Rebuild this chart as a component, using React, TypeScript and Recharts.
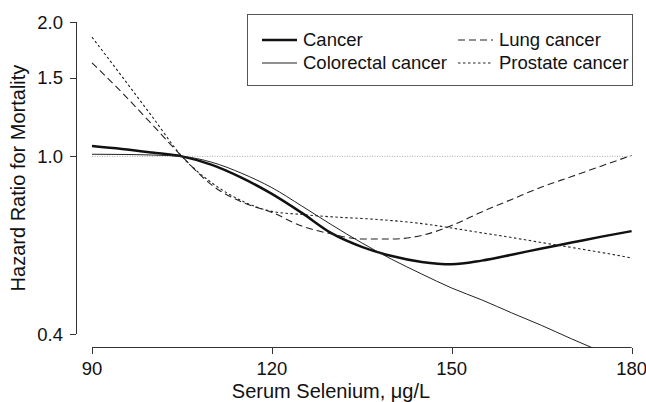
import React from 'react'
import { LineChart, Line, XAxis, YAxis, ReferenceLine, Legend } from 'recharts'

// serum selenium (µg/L) and hazard ratio for each cause of death
const selenium = [90, 95, 100, 105, 110, 115, 120, 125, 130, 135, 140, 145, 150, 155, 160, 165, 170, 175, 180]
const cancer = [1.055, 1.039, 1.02, 1.0, 0.957, 0.895, 0.824, 0.747, 0.672, 0.627, 0.598, 0.58, 0.573, 0.584, 0.602, 0.622, 0.641, 0.661, 0.68]
const colorectal = [1.011, 1.01, 1.007, 1.0, 0.97, 0.916, 0.851, 0.774, 0.702, 0.64, 0.588, 0.545, 0.507, 0.477, 0.446, 0.418, 0.39, 0.365, 0.341]
const lung = [1.62, 1.39, 1.18, 1.0, 0.862, 0.79, 0.749, 0.698, 0.67, 0.653, 0.653, 0.665, 0.7, 0.751, 0.801, 0.854, 0.901, 0.952, 1.005]
const prostate = [1.85, 1.51, 1.23, 1.0, 0.872, 0.795, 0.753, 0.741, 0.732, 0.726, 0.718, 0.707, 0.691, 0.674, 0.658, 0.641, 0.625, 0.609, 0.592]

const xTicks = [90, 120, 150, 180]
const yTicks = [0.4, 1.0, 1.5, 2.0]
const xDomain = [87.333, 182.4]
const yDomain = [0.37213, 2.1498]
// where the offset axis lines sit (just inside the plot box)
const yAxisAt = 87.417
const xAxisAt = 0.3731

const data = selenium.map((x, i) => ({
  x,
  cancer: cancer[i],
  colorectal: colorectal[i],
  lung: lung[i],
  prostate: prostate[i],
}))

const series = [
  { key: 'cancer', name: 'Cancer', width: 2.5, dash: undefined, color: '#111' },
  { key: 'colorectal', name: 'Colorectal cancer', width: 1, dash: undefined, color: '#222' },
  { key: 'lung', name: 'Lung cancer', width: 1.1, dash: '7 4', color: '#222' },
  { key: 'prostate', name: 'Prostate cancer', width: 1.1, dash: '2.5 2.5', color: '#222' },
]

const FONT = '"Liberation Sans", Arial, Helvetica, sans-serif'
const AXIS = '#333'
const TICK_SIZE = 6
const X_MARGIN = 8
const Y_MARGIN = 7

const XTick = (props: any) => {
  const x = Number(props.x)
  const y = Number(props.y)
  const px = Math.round(x) + 0.5
  return (
    <g>
      <line x1={px} x2={px} y1={y - X_MARGIN - TICK_SIZE} y2={y - X_MARGIN} stroke={AXIS} strokeWidth={1} />
      <text x={x} y={y} dy="0.71em" textAnchor="middle" fontSize={18.5} fill="#111" fontFamily={FONT}>
        {props.payload.value}
      </text>
    </g>
  )
}

const YTick = (props: any) => {
  const x = Number(props.x)
  const y = Number(props.y)
  const py = Math.round(y) + 0.5
  return (
    <g>
      <line x1={x + Y_MARGIN} x2={x + Y_MARGIN + TICK_SIZE} y1={py} y2={py} stroke={AXIS} strokeWidth={1} />
      <text x={x} y={y} dy="0.355em" textAnchor="end" fontSize={18.5} fill="#111" fontFamily={FONT}>
        {Number(props.payload.value).toFixed(1)}
      </text>
    </g>
  )
}

const LegendBox = () => {
  const cols = [
    [series[0], series[1]],
    [series[2], series[3]],
  ]
  const colLeft = [15, 211]
  const rowMid = [26, 49]
  return (
    <div
      style={{
        position: 'relative',
        width: 386,
        height: 72,
        border: '1px solid #555',
        boxSizing: 'border-box',
        background: '#fff',
        fontFamily: FONT,
        fontSize: 18.5,
        color: '#111',
      }}
    >
      {cols.map((col, c) =>
        col.map((s, r) => (
          <div
            key={s.key}
            style={{
              position: 'absolute',
              left: colLeft[c] - 1,
              top: rowMid[r] - 12,
              height: 22,
              display: 'flex',
              alignItems: 'center',
              whiteSpace: 'nowrap',
            }}
          >
            <svg width={35} height={22} style={{ marginRight: 6 }}>
              <line x1={0} x2={35} y1={11} y2={11} stroke={s.color} strokeWidth={s.width} strokeDasharray={s.dash} />
            </svg>
            <span>{s.name}</span>
          </div>
        ))
      )}
    </div>
  )
}

const App: React.FC = () => {
  return (
    <div style={{ position: 'absolute', left: 0, top: 0, background: '#fff' }}>
      <LineChart
        width={646}
        height={402}
        data={data}
        margin={{ top: 8, right: 0, bottom: 0, left: 0 }}
        style={{ fontFamily: FONT }}
      >
        <XAxis
          dataKey="x"
          type="number"
          domain={xDomain}
          ticks={xTicks}
          allowDataOverflow
          axisLine={false}
          tickLine={false}
          tickSize={TICK_SIZE}
          tickMargin={X_MARGIN}
          height={54}
          tick={<XTick />}
          label={{ value: 'Serum Selenium, μg/L', position: 'insideBottom', offset: 4, dx: -30, fontSize: 20, fill: '#111' }}
        />
        <YAxis
          type="number"
          scale="log"
          domain={yDomain}
          ticks={yTicks}
          allowDataOverflow
          axisLine={false}
          tickLine={false}
          tickSize={TICK_SIZE}
          tickMargin={Y_MARGIN}
          width={76}
          tick={<YTick />}
          label={{
            value: 'Hazard Ratio for Mortality',
            angle: -90,
            position: 'insideLeft',
            offset: 18,
            fontSize: 20,
            fill: '#111',
            style: { textAnchor: 'middle' },
          }}
        />
        {/* axis lines only span the tick range, R style */}
        <ReferenceLine segment={[{ x: yAxisAt, y: yTicks[0] }, { x: yAxisAt, y: yTicks[3] }]} stroke={AXIS} strokeWidth={1} ifOverflow="visible" />
        <ReferenceLine segment={[{ x: xTicks[0], y: xAxisAt }, { x: xTicks[3], y: xAxisAt }]} stroke={AXIS} strokeWidth={1} ifOverflow="visible" />
        <ReferenceLine segment={[{ x: xTicks[0], y: 1 }, { x: xTicks[3], y: 1 }]} stroke="#aaa" strokeDasharray="1 1.5" />
        {series.map((s) => (
          <Line
            key={s.key}
            dataKey={s.key}
            name={s.name}
            type="monotone"
            stroke={s.color}
            strokeWidth={s.width}
            strokeDasharray={s.dash}
            dot={false}
            activeDot={false}
            isAnimationActive={false}
          />
        ))}
        <Legend
          layout="horizontal"
          verticalAlign="middle"
          align="center"
          wrapperStyle={{ left: 247, top: 14, width: 386, height: 72 }}
          content={() => <LegendBox />}
        />
      </LineChart>
    </div>
  )
}

export default App
